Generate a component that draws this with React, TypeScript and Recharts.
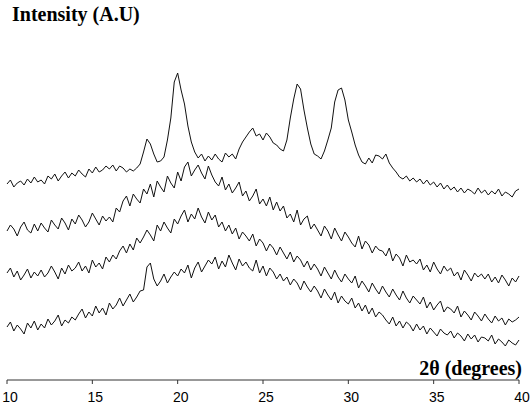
import { LineChart, Line, XAxis, YAxis } from "recharts";

// 2θ grid: 10° .. 40° in 0.2° steps (151 points)
const START = 10;
const STEP = 0.2;
const xTicks = [10, 15, 20, 25, 30, 35, 40];

// intensity (arbitrary units, height above the x axis)
const crystalline = [
  196, 200, 193, 197, 199, 195, 201, 197, 203, 198,
  200, 196, 204, 201, 206, 199, 204, 208, 202, 207,
  204, 210, 206, 203, 211, 207, 213, 208, 210, 214,
  211, 215, 209, 214, 212, 208, 211, 209, 212, 216,
  228, 241, 236, 226, 218, 219, 223, 240, 262, 298,
  307, 290, 276, 254, 238, 228, 222, 226, 219, 224,
  220, 226, 221, 218, 227, 223, 226, 221, 231, 238,
  243, 248, 252, 244, 246, 240, 247, 243, 237, 235,
  231, 229, 240, 262, 281, 296, 291, 270, 252, 236,
  226, 224, 221, 229, 240, 252, 278, 290, 292, 280,
  260, 248, 235, 225, 218, 216, 222, 217, 225, 224,
  221, 226, 217, 212, 208, 203, 201, 204, 199, 202,
  198, 201, 196, 200, 195, 198, 193, 197, 191, 195,
  190, 193, 188, 192, 187, 191, 189, 186, 192, 187,
  190, 185, 189, 186, 191, 184, 188, 186, 183, 189,
  191,
];

const amorphous1 = [
  149, 155, 151, 144, 153, 158, 150, 147, 156, 149,
  157, 152, 148, 160, 155, 151, 162, 157, 150, 161,
  156, 165, 160, 153, 158, 167, 161, 155, 164, 159,
  163, 158, 172, 168, 179, 184, 174, 186, 181, 177,
  191, 186, 196, 183, 199, 193, 188, 204, 197, 192,
  208, 199, 213, 218, 204, 210, 215, 207, 201, 214,
  205, 198, 194, 203, 190, 196, 187, 192, 198, 184,
  189, 179, 184, 191, 176, 181, 174, 183, 170, 178,
  169, 174, 162, 166, 158, 170, 155, 161, 164, 151,
  156, 150, 144, 154, 149, 141, 152, 145, 139, 148,
  143, 137, 133, 144, 131, 139, 135, 127, 134, 130,
  129, 124, 132, 119, 126, 122, 114, 125, 118, 120,
  116, 121, 110, 115, 108, 118, 111, 106, 114, 109,
  112, 104, 108, 100, 110, 105, 99, 107, 103, 106,
  101, 106, 98, 103, 97, 105, 100, 94, 102, 98,
  104,
];

const amorphous2 = [
  107, 112, 103, 109, 100, 105, 111, 102, 108, 104,
  110, 103, 107, 114, 108, 101, 112, 106, 115, 109,
  112, 118, 109, 114, 107, 120, 113, 117, 111, 123,
  118, 125, 121, 129, 134, 127, 136, 130, 142, 137,
  143, 150, 145, 139, 155, 149, 158, 152, 147, 161,
  156, 164, 170, 158, 166, 161, 172, 163, 157, 168,
  160, 165, 153, 158, 149, 155, 146, 152, 141, 148,
  144, 139, 146, 134, 141, 137, 129, 136, 132, 125,
  133, 127, 121, 128, 118, 124, 120, 113, 119, 110,
  116, 111, 104, 113, 107, 101, 110, 103, 98, 106,
  101, 97, 104, 92, 99, 94, 88, 97, 91, 86,
  94, 88, 83, 91, 85, 80, 89, 82, 77, 84,
  80, 76, 83, 72, 78, 70, 75, 79, 68, 73,
  71, 67, 74, 63, 69, 65, 60, 68, 64, 59,
  66, 61, 57, 64, 59, 62, 55, 61, 58, 60,
  63,
];

const amorphous3 = [
  53, 58, 49, 55, 51, 46, 57, 52, 59, 50,
  56, 52, 61, 55, 59, 65, 54, 60, 57, 63,
  60, 66, 71, 62, 68, 64, 74, 67, 72, 65,
  77, 71, 75, 82, 74, 80, 86, 78, 83, 89,
  90, 113, 117, 101, 94, 99, 106, 97, 103, 108,
  104, 111, 107, 115, 102, 112, 118, 108, 114, 120,
  116, 123, 111, 119, 113, 125, 117, 110, 121, 114,
  118, 112, 109, 120, 107, 114, 104, 112, 108, 101,
  106, 99, 103, 95, 101, 97, 90, 99, 93, 88,
  94, 89, 82, 91, 85, 80, 88, 77, 84, 79,
  76, 82, 72, 77, 69, 75, 66, 72, 63, 68,
  65, 60, 56, 63, 54, 59, 52, 58, 55, 49,
  56, 50, 54, 46, 52, 48, 44, 51, 47, 45,
  49, 42, 47, 44, 39, 46, 41, 45, 38, 43,
  42, 39, 45, 36, 41, 38, 34, 40, 37, 35,
  40,
];

const data = crystalline.map((v, i) => ({
  t: +(START + i * STEP).toFixed(1),
  a: v,
  b: amorphous1[i],
  c: amorphous2[i],
  d: amorphous3[i],
}));

const serif = "'Liberation Serif', 'Times New Roman', serif";
const sans = "'Liberation Sans', Arial, sans-serif";

export default function App() {
  return (
    <div style={{ position: "absolute", left: 0, top: 0, width: 532, height: 407, background: "#fff" }}>
      <LineChart width={532} height={407} data={data} margin={{ top: 49, right: 13, bottom: 0, left: 7 }}>
        <XAxis
          dataKey="t"
          type="number"
          domain={[10, 40]}
          ticks={xTicks}
          height={27}
          tickSize={4}
          tickMargin={8}
          axisLine={{ stroke: "#333" }}
          tickLine={{ stroke: "#333" }}
          tick={{ fill: "#000", fontSize: 14, fontFamily: sans, dx: 3 }}
        />
        <YAxis
          type="number"
          domain={[0, 331]}
          width={0}
          tick={false}
          tickLine={false}
          axisLine={{ stroke: "#333" }}
        />
        {["a", "b", "c", "d"].map((k) => (
          <Line
            key={k}
            type="linear"
            dataKey={k}
            stroke="#111"
            strokeWidth={1}
            dot={false}
            isAnimationActive={false}
          />
        ))}
      </LineChart>
      <svg width={532} height={407} style={{ position: "absolute", left: 0, top: 0, pointerEvents: "none" }}>
        <text x={12} y={21} fontFamily={serif} fontWeight="bold" fontSize={20} fill="#000">
          Intensity (A.U)
        </text>
        <text x={522} y={375} textAnchor="end" fontFamily={serif} fontWeight="bold" fontSize={20} fill="#000">
          2θ (degrees)
        </text>
      </svg>
    </div>
  );
}
